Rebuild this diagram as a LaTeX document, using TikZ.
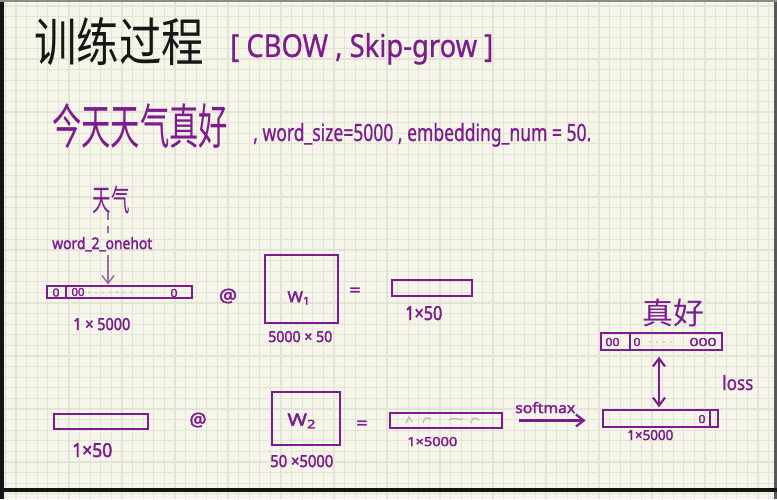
\documentclass[tikz,border=0pt]{standalone}
\usepackage{fontspec}
\setmainfont{Noto Sans}
\newfontfamily\hwb{Noto Sans}[FakeBold=2.2]
\newfontfamily\hwm{Noto Sans}[FakeBold=0.8]
\newfontfamily\cjk{Noto Sans CJK SC}
\usetikzlibrary{arrows.meta,calc}
\newlength\hwpx \setlength\hwpx{0.75pt}
\definecolor{ink}{RGB}{125,28,142}
\definecolor{paper}{RGB}{245,245,233}
\definecolor{gridc}{RGB}{228,228,214}
\definecolor{faint}{RGB}{190,178,190}
\definecolor{dashc}{RGB}{150,110,160}
\definecolor{titlec}{RGB}{22,22,22}
% width, height above baseline (in px)
\newcommand\fitL[3]{\resizebox{#1\hwpx}{#2\hwpx}{#3}}
% width, total height (in px), CJK
\newcommand\fitC[3]{\resizebox*{#1\hwpx}{#2\hwpx}{\cjk #3}}
\begin{document}
\begin{tikzpicture}[x=0.75pt,y=-0.75pt,
  >={Straight Barb[length=6pt,width=9pt]},
  hw/.style={inner sep=0pt, anchor=base west, text=ink, font=\hwb},
  hwr/.style={inner sep=0pt, anchor=base west, text=ink, font=\hwm},
  hwc/.style={inner sep=0pt, text=ink, font=\hwb},
  vecbox/.style={draw=ink, line width=2pt, inner sep=0pt},
  divider/.style={draw=ink, line width=1.3pt},
  gridline/.style={draw=gridc, line width=0.9pt},
  dashline/.style={draw=dashc, line width=1.1pt, dash pattern=on 5pt off 5pt},
  conn/.style={draw=ink, line width=1.6pt}]
\useasboundingbox (0,0) rectangle (777,499);
% paper
\fill[paper] (0,0) rectangle (777,499);
\foreach \i in {0,...,72} \draw[gridline] ({5.4+10.6*\i},0) -- ({5.4+10.6*\i},499);
\foreach \j in {0,...,46} \draw[gridline] (0,{6.1+10.6*\j}) -- (777,{6.1+10.6*\j});
% frame
\fill[black!92] (0,0) rectangle (4,499);
\fill[black!65] (774,0) rectangle (777,499);
\fill[black!45] (0,0) rectangle (777,2);
\fill[black!92] (0,488) rectangle (777,492);

% title
\node[hwc, text=titlec] (title) at (119,42) {\fitC{170}{48}{训练过程}};
\node[hwr] (cbow) at (230,57) {\fitL{263}{24}{[ CBOW , Skip-grow ]}};
\node[hwc] (sent) at (140,126) {\fitC{176}{45}{今天天气真好}};
\node[hwr] (params) at (253,141) {\fitL{338}{18}{, word\_size=5000 , embedding\_num = 50.}};

% row 1
\node[hwc] (tq) at (111,199.5) {\fitC{37}{28}{天气}};
\node[hw] (oh) at (52,249) {\fitL{100}{12}{word\_2\_onehot}};
\node[vecbox, minimum width=145\hwpx, minimum height=12\hwpx] (b1) at (119.5,292) {};
\coordinate (dtop) at (108,213);
\draw[dashline] (dtop) -- ($(dtop |- oh.north)+(0,-3)$);
\draw[draw=dashc, line width=1.1pt, ->] ($(dtop |- oh.south)+(0,3)$) -- (dtop |- b1.north);
\draw[divider] (66,287) -- (66,297);
\node[hwc] (b1z1) at (56,292.5) {\fitL{7}{8}{0}};
\node[hwc] (b1z2) at (78,292) {\fitL{13}{8}{00}};
\node[hwc] (b1z3) at (174,293) {\fitL{7}{8}{0}};
\foreach \x in {89,96,...,131} \fill[faint] (\x,292.5) circle (0.7pt);
\node[hw] (l1) at (73,330) {\fitL{57}{12}{1 × 5000}};
\node[hwc] (at1) at (228,296) {\fitL{18}{13}{@}};
\node[vecbox, minimum width=73\hwpx, minimum height=68\hwpx] (w1) at (301.5,289) {};
\node[hwc] (w1t) at (299,298) {\fitL{23}{11}{W\textsubscript{1}}};
\node[hw] (l2) at (268,342) {\fitL{64}{11}{5000 × 50}};
\node[hwc] (eq1) at (355,292) {\fitL{11}{9}{=}};
\node[vecbox, minimum width=80\hwpx, minimum height=16\hwpx] (b2) at (432,288) {};
\node[hw] (l3) at (405,320) {\fitL{37}{14}{1×50}};

% row 2
\node[vecbox, minimum width=94\hwpx, minimum height=15\hwpx] (b3) at (101,421.5) {};
\node[hw] (l4) at (72,457) {\fitL{40}{14}{1×50}};
\node[hwc] (at2) at (198,420) {\fitL{17}{13}{@}};
\node[vecbox, minimum width=68\hwpx, minimum height=53\hwpx] (w2) at (306,418.5) {};
\node[hwc] (w2t) at (302,421) {\fitL{29}{12}{W\textsubscript{2}}};
\node[hw] (l5) at (270,467) {\fitL{63}{12}{50 ×5000}};
\node[hwc] (eq2) at (362,425) {\fitL{11}{9}{=}};
\node[vecbox, minimum width=112\hwpx, minimum height=15\hwpx] (b4) at (446,420.5) {};
\draw[faint, line width=0.9pt] (406,423) -- (409,417) -- (412,422);
\draw[faint, line width=0.9pt] (423,423) .. controls (425,417) .. (431,419);
\draw[faint, line width=0.9pt] (449,420) .. controls (455,416) and (458,421) .. (463,419);
\draw[faint, line width=0.9pt] (471,423) .. controls (473,417) .. (479,420);
\node[hw] (l6) at (407,446) {\fitL{50}{9}{1×5000}};
\node[vecbox, minimum width=115\hwpx, minimum height=17\hwpx] (b5) at (660.5,418.5) {};
\node[hw] (sm) at (515,413) {\fitL{60}{11}{softmax}};
\draw[conn, ->, shorten <=12pt, shorten >=12pt] (b4.east) -- (b4.east -| b5.west);
\node[hwc] (b5z1) at (702,419) {\fitL{7}{8}{0}};
\draw[divider] (710,411) -- (710,426);
\node[hw] (l7) at (627,440) {\fitL{46}{10}{1×5000}};

% target
\node[hwc] (zh) at (673,312.5) {\fitC{62}{28}{真好}};
\node[vecbox, minimum width=121\hwpx, minimum height=17\hwpx] (b6) at (661.5,341.5) {};
\draw[divider] (630,334) -- (630,349);
\node[hwc] (b6z1) at (612.5,342) {\fitL{14}{8}{00}};
\node[hwc] (b6z2) at (637,342) {\fitL{7}{8}{0}};
\foreach \x in {650,657,...,672} \fill[faint] (\x,342) circle (0.7pt);
\node[hwc] (b6z3) at (703,342) {\fitL{27}{8}{000}};
\coordinate (lossx) at (659,0);
\draw[conn, <->, shorten <=4pt, shorten >=1pt] (b6.south -| lossx) -- (b5.north -| lossx);
\node[hwr] (loss) at (722,390) {\fitL{31}{15}{loss}};
\end{tikzpicture}
\end{document}
